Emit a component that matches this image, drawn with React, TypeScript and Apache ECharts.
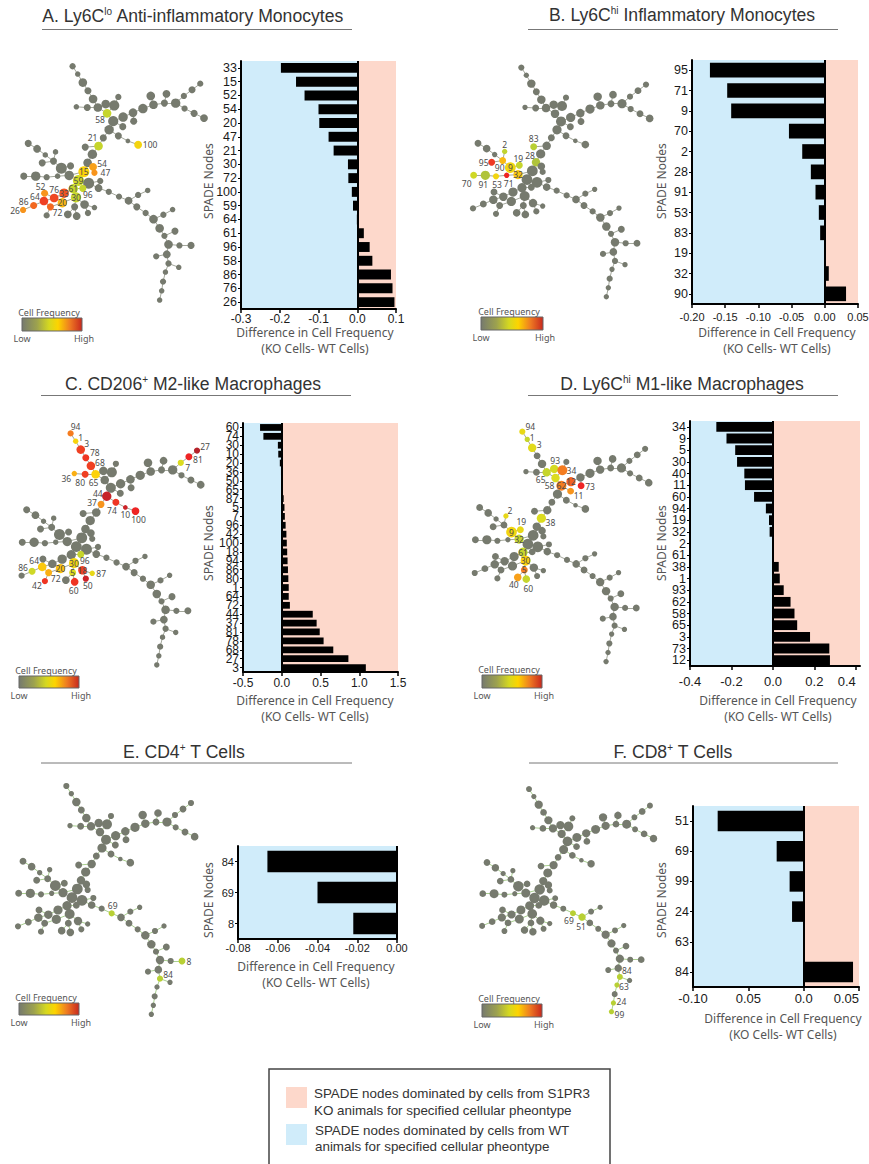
import React, { useEffect, useRef } from "react";
import * as echarts from "echarts";

// ---------- bar chart data ----------
const categoriesA = ["33","15","52","54","20","47","21","30","72","100","59","64","61","96","58","86","76","26"];
const valuesA = [-0.197,-0.158,-0.136,-0.1,-0.098,-0.074,-0.061,-0.024,-0.023,-0.014,-0.011,-0.001,0.017,0.032,0.039,0.087,0.091,0.096];
const categoriesB = ["95","71","9","70","2","28","91","53","83","19","32","90"];
const valuesB = [-0.173,-0.147,-0.141,-0.054,-0.034,-0.021,-0.014,-0.009,-0.007,-0.0003,0.006,0.032];
const categoriesC = ["60","74","30","10","20","36","50","65","87","5","7","96","42","100","18","94","86","80","1","64","72","44","37","81","78","68","27","3"];
const valuesC = [-0.28,-0.237,-0.05,-0.045,-0.025,-0.01,-0.005,0.015,0.025,0.035,0.04,0.05,0.06,0.065,0.07,0.075,0.08,0.085,0.09,0.09,0.105,0.4,0.45,0.49,0.54,0.665,0.86,1.085];
const categoriesD = ["34","9","5","30","40","11","60","94","19","32","2","61","38","1","93","62","58","65","3","73","12"];
const valuesD = [-0.273,-0.224,-0.182,-0.173,-0.138,-0.135,-0.091,-0.034,-0.019,-0.016,-0.004,0.002,0.028,0.033,0.052,0.085,0.104,0.117,0.179,0.272,0.275];
const categoriesE = ["84","69","8"];
const valuesE = [-0.0652,-0.04,-0.022];
const categoriesF = ["51","69","99","24","63","84"];
const valuesF = [-0.0777,-0.0244,-0.0127,-0.0105,0,0.0446];

const ticksA = [-0.3,-0.2,-0.1,0,0.1];
const tickLabelsA = ["-0.3","-0.2","-0.1","0.0","0.1"];
const ticksB = [-0.2,-0.15,-0.1,-0.05,0,0.05];
const tickLabelsB = ["-0.20","-0.15","-0.10","-0.05","0.00","0.05"];
const ticksC = [-0.5,0,0.5,1,1.5];
const tickLabelsC = ["-0.5","0.0","0.5","1.0","1.5"];
const ticksD = [-0.4,-0.2,0,0.2,0.4];
const tickLabelsD = ["-0.4","-0.2","0.0","0.2","0.4"];
const ticksE = [-0.08,-0.06,-0.04,-0.02,0];
const tickLabelsE = ["-0.08","-0.06","-0.04","-0.02","0.00"];
const ticksF = [-0.1,-0.05,0,0.05];
const tickLabelsF = ["-0.10","0.05","0.0","0.05"];

// ---------- SPADE tree data ----------
const treeX = [199,214,229,244,259,273,296,321,333,242,210,300,318,347,376,378,346,405,436,428,468,474,501,525,549,573,527,555,584,306,333,361,391,289,275,236,257,243,259,263,232,193,166,143,110,119,149,95,69,189,155,123,91,56,216,246,280,229,275,201,209,174,145,117,115,169,134,85,54,123,205,234,263,185,211,244,305,335,363,391,419,387,413,436,465,492,454,468,499,480,512,546,475,444,480,510,471,464,460,454];
const treeY = [153,176,201,225,249,274,264,268,243,274,272,291,314,302,289,314,330,277,266,240,261,234,261,240,222,204,277,291,305,339,357,372,383,363,387,390,411,436,448,465,462,445,452,431,436,413,404,395,379,473,475,478,475,475,488,496,489,511,510,512,537,525,539,525,548,553,565,561,574,590,565,558,567,587,592,583,521,535,547,530,517,565,583,601,588,573,628,650,636,675,678,678,704,710,731,742,756,784,811,838];
const treeSize = [8,7,11,9,11,11,11,13,8,9,7,11,13,12,11,9,9,12,11,11,9,10,12,8,9,8,8,9,10,12,9,6,10,9,11,9,12,11,10,8,14,9,14,9,9,7,7,10,9,12,7,8,12,9,14,14,8,9,10,12,13,12,11,9,11,12,9,9,8,8,9,11,7,10,10,8,8,8,10,8,7,9,8,11,8,7,11,8,9,11,8,9,10,8,8,7,7,8,7,7];
const treeEdges = [[0,1],[1,2],[2,3],[3,4],[4,5],[5,11],[5,9],[9,10],[5,6],[6,7],[7,8],[7,11],[11,12],[12,29],[29,33],[33,34],[34,36],[34,35],[36,37],[12,13],[13,14],[14,17],[17,18],[18,20],[20,22],[22,23],[23,24],[24,25],[18,19],[20,21],[22,26],[26,27],[27,28],[14,15],[12,16],[29,30],[30,31],[31,32],[37,38],[38,39],[37,40],[40,54],[40,49],[49,42],[42,41],[42,43],[43,44],[43,45],[43,46],[45,47],[47,48],[49,50],[50,51],[51,52],[52,53],[54,55],[55,56],[55,58],[54,59],[59,57],[59,60],[59,61],[61,62],[62,63],[62,64],[64,67],[67,68],[64,66],[66,65],[66,69],[60,65],[60,70],[70,74],[70,73],[60,71],[71,72],[71,75],[58,76],[76,77],[77,78],[78,79],[79,80],[78,81],[81,82],[82,83],[83,84],[84,85],[83,86],[86,87],[87,88],[87,89],[89,90],[90,91],[89,92],[92,93],[92,94],[94,95],[94,96],[96,97],[97,98],[98,99]];

// highlighted nodes: tree node index, label, relative cell frequency (0..1)
const spadeA: [number,string,number][] = [[11,"58",.3],[34,"21",.3],[32,"100",.47],[38,"54",.6],[39,"47",.625],[40,"15",.5],[54,"59",.33],[57,"96",.3],[59,"61",.3],[60,"30",.3],[63,"52",.625],[62,"76",.74],[61,"33",.72],[65,"20",.55],[64,"64",.75],[67,"86",.69],[68,"26",.625],[66,"72",.69]];
const spadeB: [number,string,number][] = [[35,"83",.25],[37,"28",.22],[46,"2",.28],[41,"19",.3],[42,"9",.46],[43,"90",.55],[44,"95",.78],[49,"32",.52],[50,"71",.875],[51,"53",.46],[52,"91",.22],[53,"70",.33]];
const spadeC: [number,string,number][] = [[0,"94",.66],[1,"1",.48],[2,"3",.75],[3,"78",.8],[4,"68",.75],[10,"36",.57],[9,"80",.75],[5,"65",.5],[29,"44",.96],[33,"37",.625],[30,"74",.8],[31,"10",.95],[32,"100",.875],[25,"27",1],[24,"81",.875],[23,"7",.375],[57,"96",.3],[60,"30",.46],[64,"64",.52],[67,"86",.33],[65,"20",.53],[66,"72",.57],[70,"5",.375],[71,"18",.75],[72,"87",.42],[75,"50",.95],[74,"60",.8],[69,"42",.8]];
const spadeD: [number,string,number][] = [[0,"94",.42],[1,"1",.3],[2,"3",.4],[6,"93",.35],[5,"65",.3],[7,"34",.66],[11,"58",.375],[12,"62",.66],[13,"12",.7],[15,"73",.875],[16,"11",.625],[36,"38",.375],[46,"2",.42],[41,"19",.42],[42,"9",.46],[49,"32",.3],[59,"61",.3],[60,"30",.5],[70,"5",.66],[73,"40",.6],[74,"60",.3]];
const spadeE: [number,string,number][] = [[77,"69",.25],[91,"8",.25],[94,"84",.25]];
const spadeF: [number,string,number][] = [[77,"69",.25],[78,"51",.25],[94,"84",.25],[96,"63",.25],[98,"24",.25],[99,"99",.25]];

const labelShiftA = [[-7,6],[-6,-9],[12,0],[9,-3],[11,0],[0,0],[0,0],[5,6],[0,0],[0,0],[-4,-7],[0,-8],[0,0],[0,0],[-9,-5],[-10,-4],[-8,1],[7,6]];
const labelShiftB = [[0,-8],[-6,-7],[0,-7],[-1,-7],[0,0],[-3,7],[-8,0],[0,0],[2,8],[1,8],[-2,9],[-7,8]];
const labelShiftC = [[5,-7],[5,-4],[6,-6],[9,-5],[9,-3],[-8,5],[-5,8],[-2,8],[-9,-3],[-9,-2],[-4,8],[0,7],[3,8],[8,-4],[9,3],[7,5],[4,6],[0,0],[-8,-6],[-9,-4],[0,0],[7,6],[0,0],[0,0],[9,0],[2,7],[-1,9],[-8,4]];
const labelShiftD = [[8,-5],[5,-2],[7,-3],[1,-8],[-6,7],[9,0],[-6,7],[0,0],[0,0],[9,1],[8,4],[9,4],[4,-5],[1,-8],[0,0],[0,0],[0,0],[0,0],[0,0],[-4,7],[2,9]];
const labelShiftE = [[1,-8],[7,0],[8,-4]];
const labelShiftF = [[-4,7],[-1,9],[7,-6],[7,1],[8,-1],[8,3]];

const palette = ["#767a6e","#979c52","#b8d034","#dcdc1f","#fcd20a","#f7941d","#ef4023","#ee2424","#b5232a"];
const SANS = "Liberation Sans";
const HUMAN = "Noto Sans";
const NODE_SCALE = 1.15;

const panels = [
  { title: "A. Ly6C{s|lo} Anti-inflammatory Monocytes", titleX: 193, titleY: 16, rule: [42,352,29.5],
    cats: categoriesA, vals: valuesA, ticks: ticksA, tickLabels: tickLabelsA, min: -0.3, max: 0.1,
    grid: [241,61,155,248], yFont: 12.5, xFont: 12, xMargin: 4, alignMax: "center", barWidth: "72%",
    xName: [315,332], yName: [208,181],
    spade: spadeA, shift: labelShiftA, tree: [0,0,14,42,1.024,1.024], edge: "#a3a79b",
    key: [22,318,60,13] },
  { title: "B. Ly6C{s|hi} Inflammatory Monocytes", titleX: 682, titleY: 15, rule: [528,838,29.5],
    cats: categoriesB, vals: valuesB, ticks: ticksB, tickLabels: tickLabelsB, min: -0.2, max: 0.05,
    grid: [692,60,166,244], yFont: 12.5, xFont: 11, xMargin: 7, alignMax: "center", barWidth: "72%",
    xName: [777,332], yName: [661,181],
    spade: spadeB, shift: labelShiftB, tree: [435,0,60,49,1,1.004], edge: "#a3a79b",
    key: [481,317,62,13] },
  { title: "C. CD206{s|+} M2-like Macrophages", titleX: 193, titleY: 384, rule: [41,351,395.5],
    cats: categoriesC, vals: valuesC, ticks: ticksC, tickLabels: tickLabelsC, min: -0.5, max: 1.5,
    grid: [243,423,155,249], yFont: 12, xFont: 12, xMargin: 5, alignMax: "center", barWidth: "76%",
    xName: [315,700], yName: [208,543],
    spade: spadeC, shift: labelShiftC, tree: [0,370,10,35,1.014,1.014], edge: "#a3a79b",
    key: [19,676,60,12] },
  { title: "D. Ly6C{s|hi} M1-like Macrophages", titleX: 682, titleY: 384, rule: [528,838,395.5],
    cats: categoriesD, vals: valuesD, ticks: ticksD, tickLabels: tickLabelsD, min: -0.4, max: 0.42,
    grid: [690,421,170,245], yFont: 12.5, xFont: 13, xMargin: 9, alignMax: "right", barWidth: "84%",
    xName: [778,700], yName: [661,543],
    spade: spadeD, shift: labelShiftD, tree: [435,370,66,31,0.985,1.007], edge: "#a3a79b",
    key: [482,675,60,13] },
  { title: "E. CD4{s|+} T Cells", titleX: 184, titleY: 752, rule: [41,352,763],
    cats: categoriesE, vals: valuesE, ticks: ticksE, tickLabels: tickLabelsE, min: -0.08, max: 0,
    grid: [238,846,159,93], yFont: 11, xFont: 11, xMargin: 3, alignMax: "center", barWidth: "69%",
    xName: [316,966], yName: [208,900],
    spade: spadeE, shift: labelShiftE, tree: [0,735,0,0,1,1], edge: "#a9cf8f",
    key: [19,1003,60,12] },
  { title: "F. CD8{s|+} T Cells", titleX: 673, titleY: 752, rule: [529,838,763],
    cats: categoriesF, vals: valuesF, ticks: ticksF, tickLabels: tickLabelsF, min: -0.1, max: 0.05,
    grid: [693,806,166,181], yFont: 12.5, xFont: 13, xMargin: 5, alignMax: "right", barWidth: "68%",
    xName: [783,1018], yName: [661,900],
    spade: spadeF, shift: labelShiftF, tree: [435,735,89,13,0.97,0.975], edge: "#a9cf8f",
    key: [482,1004,60,13] },
];

const freqColor = (f: number) => echarts.color.lerp(f, palette) as string;

function txt(x: number, y: number, text: string, font: string, size: number, color: string, extra: any = {}) {
  const { rotation, style, ...rest } = extra;
  return {
    type: "text", x, y, rotation: rotation || 0, silent: true,
    style: { text, fontFamily: font, fontSize: size, fill: color, align: "center", verticalAlign: "middle", ...style },
    ...rest,
  };
}

function buildOption() {
  const grid: any[] = [];
  const xAxis: any[] = [];
  const yAxis: any[] = [];
  const series: any[] = [];
  const graphic: any[] = [];

  panels.forEach((p, i) => {
    const [l, t, w, h] = p.grid;
    grid.push({ left: l, top: t, width: w, height: h, containLabel: false, outerBoundsMode: "none" });
    const labelMap = new Map(p.ticks.map((v, k) => [v, p.tickLabels[k]]));
    xAxis.push({
      gridIndex: i, type: "value", position: "bottom", min: p.min, max: p.max, z: 3,
      splitLine: { show: false },
      axisLine: { show: true, onZero: false, lineStyle: { color: "#000", width: 2 } },
      axisTick: { show: true, customValues: p.ticks, length: 4, lineStyle: { color: "#000", width: 1.5 } },
      axisLabel: {
        show: true, customValues: p.ticks, color: "#1a1a1a", fontFamily: SANS, fontSize: p.xFont, margin: p.xMargin,
        hideOverlap: false, showMinLabel: true, showMaxLabel: true, alignMaxLabel: p.alignMax,
        formatter: (v: number) => labelMap.get(v) ?? String(v),
      },
    });
    yAxis.push({
      gridIndex: i, type: "category", position: "left", inverse: true, data: p.cats, z: 3,
      axisLine: { show: true, onZero: false, lineStyle: { color: "#000", width: 2 } },
      axisTick: { show: true, alignWithLabel: true, length: 3, lineStyle: { color: "#000", width: 1 } },
      axisLabel: { show: true, interval: 0, color: "#1a1a1a", fontFamily: SANS, fontSize: p.yFont, margin: 4 },
    });
    series.push({
      type: "bar", name: p.title, xAxisIndex: i, yAxisIndex: i, data: p.vals, barWidth: p.barWidth,
      itemStyle: { color: "#000" }, silent: true,
      markArea: {
        silent: true, z: 1,
        data: [
          [{ xAxis: p.min, itemStyle: { color: "#d0ecfa" } }, { xAxis: 0 }],
          ...(p.max > 0 ? [[{ xAxis: 0, itemStyle: { color: "#fdd8cb" } }, { xAxis: p.max }]] : []),
        ],
      },
      markLine: {
        silent: true, symbol: "none", label: { show: false },
        lineStyle: { color: "#000", width: 2, type: "solid" },
        data: [{ xAxis: 0 }],
      },
    });
  });

  // each tree sits in its own hidden grid, after the six bar grids
  panels.forEach((p, i) => {
    const [ox, oy, tx, ty, sx, sy] = p.tree;
    const X0 = 0, X1 = 660, Y0 = 100, Y1 = 900;
    grid.push({
      left: ox + (tx + sx * X0) / 3, top: oy + (ty + sy * Y0) / 3,
      width: (sx * (X1 - X0)) / 3, height: (sy * (Y1 - Y0)) / 3, outerBoundsMode: "none",
    });
    xAxis.push({ gridIndex: i + 6, type: "value", min: X0, max: X1, show: false });
    yAxis.push({ gridIndex: i + 6, type: "value", min: Y0, max: Y1, inverse: true, show: false });

    const hi = new Map(p.spade.map((s, k) => [s[0], { label: s[1], freq: s[2], shift: p.shift[k] }]));
    const sc = ((sx + sy) / 2) * NODE_SCALE;
    series.push({
      type: "graph", coordinateSystem: "cartesian2d", xAxisIndex: i + 6, yAxisIndex: i + 6,
      layout: "none", roam: false, silent: true, z: 4,
      data: treeX.map((x, k) => {
        const h = hi.get(k);
        return {
          name: "n" + k,
          value: [x, treeY[k]],
          symbolSize: (treeSize[k] * 2 * sc) / 3,
          itemStyle: { color: h ? freqColor(h.freq) : palette[0] },
          label: h
            ? { show: true, position: "inside", formatter: h.label, offset: h.shift, color: "#4d4d4d", fontFamily: HUMAN, fontSize: 8.5 }
            : { show: false },
        };
      }),
      links: treeEdges.map(([a, b]) => ({ source: "n" + a, target: "n" + b })),
      lineStyle: { color: p.edge, width: 1, opacity: 1, curveness: 0 },
    });
  });

  panels.forEach((p) => {
    graphic.push(txt(p.titleX, p.titleY, p.title, SANS, 17.6, "#333", {
      style: { rich: { s: { fontFamily: SANS, fontSize: 10, fill: "#333", verticalAlign: "top", lineHeight: 20 } } },
    }));
    graphic.push({ type: "line", silent: true, shape: { x1: p.rule[0], y1: p.rule[2], x2: p.rule[1], y2: p.rule[2] }, style: { stroke: "#777", lineWidth: 1 } });
    graphic.push(txt(p.xName[0], p.xName[1], "Difference in Cell Frequency", HUMAN, 12, "#555"));
    graphic.push(txt(p.xName[0], p.xName[1] + 16, "(KO Cells- WT Cells)", HUMAN, 12, "#555"));
    graphic.push(txt(p.yName[0], p.yName[1], "SPADE Nodes", HUMAN, 12, "#555", { rotation: Math.PI / 2 }));
    const [kx, ky, kw, kh] = p.key;
    graphic.push({
      type: "rect", silent: true, shape: { x: kx, y: ky, width: kw, height: kh },
      style: {
        stroke: "#666", lineWidth: 1,
        fill: new echarts.graphic.LinearGradient(0, 0, 1, 0, [
          { offset: 0, color: "#767a6e" }, { offset: 0.25, color: "#9da24e" }, { offset: 0.45, color: "#d5d820" },
          { offset: 0.6, color: "#fdd400" }, { offset: 0.8, color: "#ee7a22" }, { offset: 1, color: "#c8281e" },
        ]),
      },
    });
    graphic.push(txt(kx + kw / 2 - 3, ky - 6, "Cell Frequency", HUMAN, 9, "#555"));
    graphic.push(txt(kx, ky + kh + 7, "Low", HUMAN, 9, "#555"));
    graphic.push(txt(kx + kw + 2, ky + kh + 7, "High", HUMAN, 9, "#555"));
  });

  // colour key box at the bottom
  graphic.push({ type: "rect", silent: true, shape: { x: 269, y: 1069, width: 341, height: 103 }, style: { fill: "#fff", stroke: "#444", lineWidth: 1.5 } });
  graphic.push({ type: "rect", silent: true, shape: { x: 286, y: 1087, width: 21, height: 21 }, style: { fill: "#fdd8cb" } });
  graphic.push({ type: "rect", silent: true, shape: { x: 286, y: 1124, width: 21, height: 21 }, style: { fill: "#d0ecfa" } });
  const left = { style: { align: "left" } };
  graphic.push(txt(314, 1093.5, "SPADE nodes dominated by cells from S1PR3", SANS, 13.4, "#333", left));
  graphic.push(txt(314, 1110, "KO animals for specified cellular pheontype", SANS, 13.4, "#333", left));
  graphic.push(txt(315, 1130, "SPADE nodes dominated by cells from WT", SANS, 13.4, "#333", left));
  graphic.push(txt(315, 1146.5, "animals for specified cellular pheontype", SANS, 13.4, "#333", left));

  return { animation: false, backgroundColor: "#fff", grid, xAxis, yAxis, series, graphic: { elements: graphic } };
}

export default function App() {
  const ref = useRef<HTMLDivElement>(null);
  useEffect(() => {
    if (!ref.current) return;
    const chart = echarts.init(ref.current, undefined, { renderer: "svg" });
    chart.setOption(buildOption() as any);
    return () => chart.dispose();
  }, []);
  return <div ref={ref} style={{ position: "fixed", left: 0, top: 0, width: 869, height: 1164 }} />;
}
